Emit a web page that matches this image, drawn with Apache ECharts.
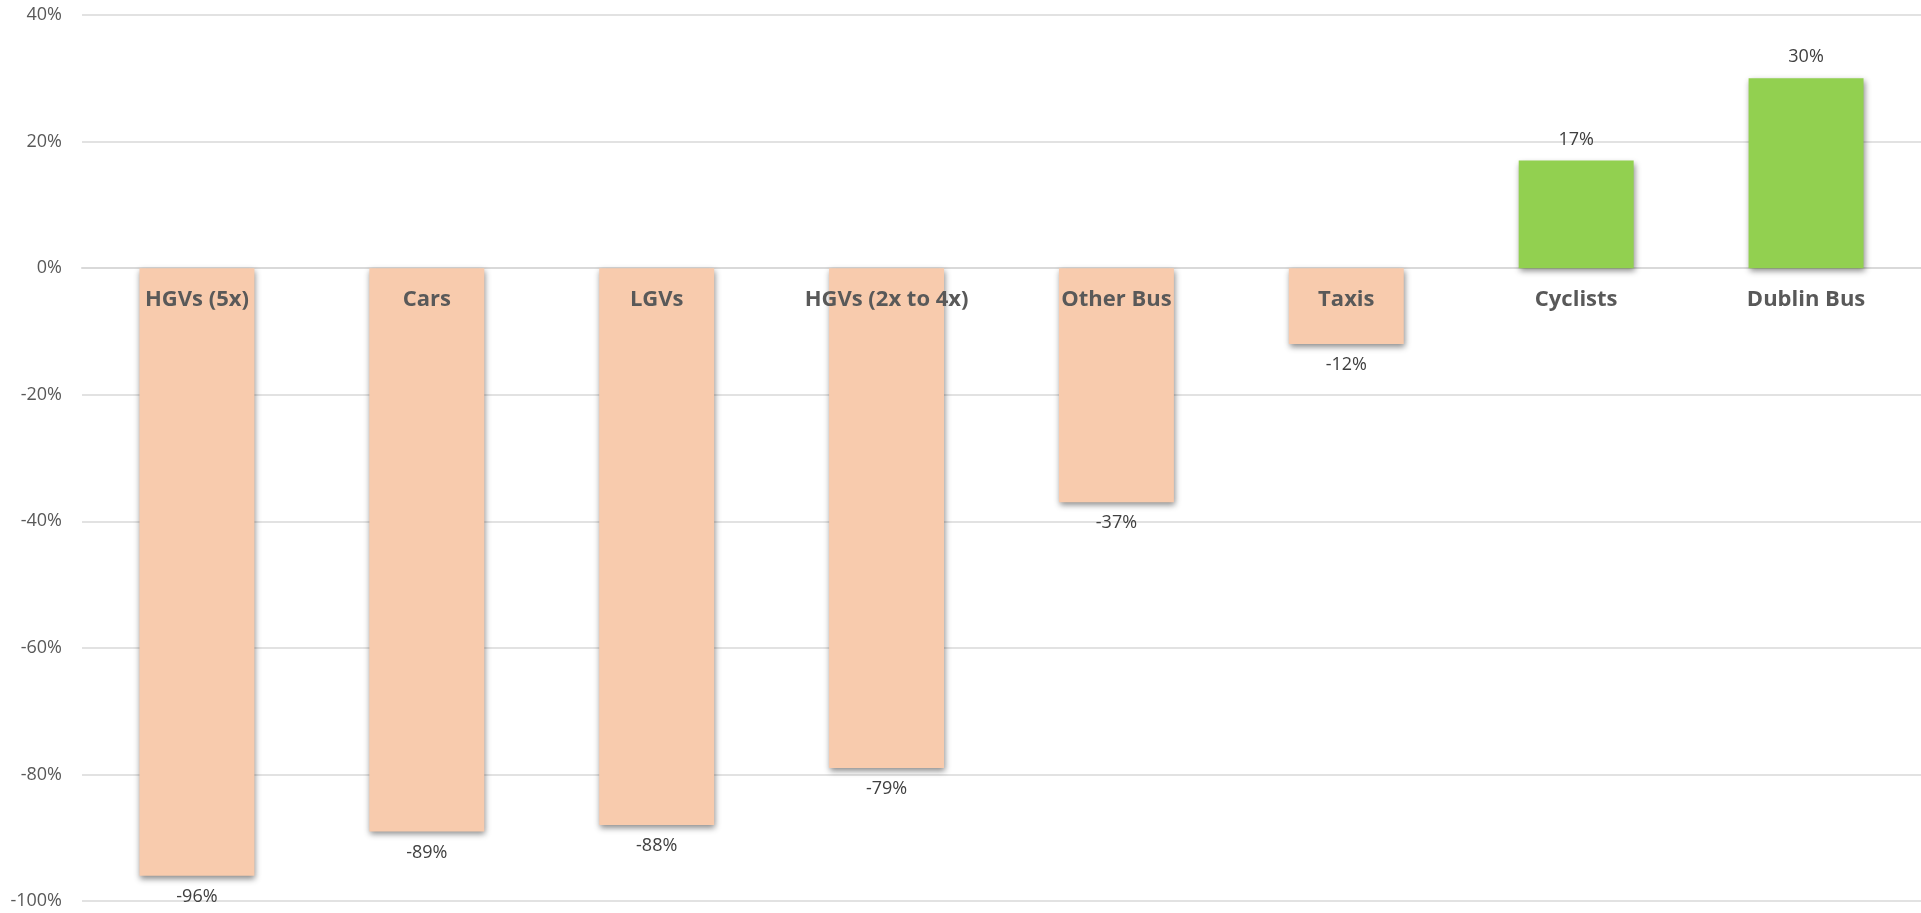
<!DOCTYPE html>
<html>
<head>
<meta charset="utf-8">
<script src="https://cdn.jsdelivr.net/npm/echarts@6/dist/echarts.min.js"></script>
<style>
html,body{margin:0;padding:0;background:#fff;}
#chart{width:1921px;height:913px;}
</style>
</head>
<body>
<div id="chart"></div>
<script>
var categories = ['HGVs (5x)', 'Cars', 'LGVs', 'HGVs (2x to 4x)', 'Other Bus', 'Taxis', 'Cyclists', 'Dublin Bus'];
var changeValues = [-96, -89, -88, -79, -37, -12, 17, 30];
var yTicks = [-100, -80, -60, -40, -20, 0, 20, 40];

var chart = echarts.init(document.getElementById('chart'));
chart.setOption({
  animation: false,
  backgroundColor: '#ffffff',
  grid: { left: 82, right: 0, top: 15, bottom: 12, containLabel: false, outerBoundsMode: 'none' },
  xAxis: {
    type: 'category',
    data: categories,
    axisLine: { show: true, onZero: true, lineStyle: { color: '#D9D9D9', width: 2 } },
    axisTick: { show: false },
    axisLabel: { show: false }
  },
  yAxis: {
    type: 'value',
    min: yTicks[0],
    max: yTicks[yTicks.length - 1],
    interval: 20,
    axisLine: { show: false },
    axisTick: { show: false },
    axisLabel: {
      margin: 20,
      color: '#595959',
      fontFamily: 'Open Sans',
      fontSize: 18,
      formatter: '{value}%'
    },
    splitLine: { lineStyle: { color: '#D9D9D9', width: 1.5 } }
  },
  series: [{
    type: 'bar',
    z: 2,
    data: changeValues.map(function (v) {
      return { value: v, label: { position: v < 0 ? 'bottom' : 'top' } };
    }),
    barCategoryGap: '50%',
    itemStyle: {
      color: function (p) { return p.value < 0 ? '#F8CBAD' : '#92D050'; },
      shadowColor: 'rgba(0,0,0,0.45)',
      shadowBlur: 6,
      shadowOffsetX: 1,
      shadowOffsetY: 3
    },
    label: {
      show: true,
      distance: 12,
      color: '#404040',
      fontFamily: 'Open Sans',
      fontSize: 18,
      formatter: function (p) { return p.value + '%'; }
    }
  }, {
    type: 'scatter',
    z: 5,
    silent: true,
    symbolSize: 0,
    itemStyle: { opacity: 1 },
    data: categories.map(function (c) { return [c, 0]; }),
    label: {
      show: true,
      position: 'bottom',
      distance: 21,
      color: '#595959',
      opacity: 1,
      fontFamily: 'Open Sans',
      fontWeight: 'bold',
      fontSize: 22,
      formatter: function (p) { return p.value[0]; }
    }
  }]
});
</script>
</body>
</html>
